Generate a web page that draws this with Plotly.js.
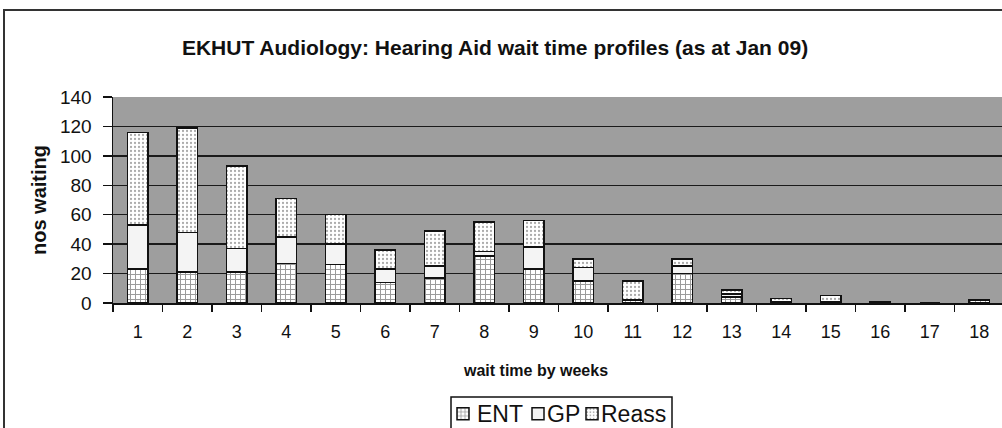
<!DOCTYPE html>
<html><head><meta charset="utf-8">
<script src="https://cdn.plot.ly/plotly-3.0.1.min.js"></script>
<style>
html,body{margin:0;padding:0;background:#fff;overflow:hidden;width:1002px;height:428px}
#frame{position:absolute;left:3px;top:9px;width:1100px;height:500px;border-left:2px solid #333;border-top:2px solid #333;}
#chart{position:absolute;left:0;top:0;width:1040px;height:470px}
</style></head>
<body><div id="frame"></div><div id="chart"></div>
<script>
const weeks = ['1','2','3','4','5','6','7','8','9','10','11','12','13','14','15','16','17','18'];
const ent   = [23,21,21,27,26,14,17,32,23,15,2,20,4,1,1,1,0,2];
const gp    = [30,27,16,18,14,9,8,3,15,9,0,5,2,0,0,0,0,0];
const reass = [63,71,56,26,20,13,24,20,18,6,13,5,3,2,4,0,0,0];
const seriesNames = ['ENT','GP','Reass'];

const FONT = '"Liberation Sans", Arial, sans-serif';
const line = {color:'#111', width:1.5};

// plot area geometry (px) used to place legend pieces
const PL = 113, PW = 891, PT = 97, PH = 206;
const px = v => (v - PL) / PW;
const py = v => -(v - (PT + PH)) / PH;

const traces = [
  {type:'bar', name:'', legend:'legend', x:weeks, y:ent,
   marker:{color:'#ffffff', line:line, pattern:{shape:'+', fillmode:'overlay', fgcolor:'#333', size:5, solidity:0.35}}},
  {type:'bar', name:'', legend:'legend2', x:weeks, y:gp,
   marker:{color:'#f4f4f4', line:line}},
  {type:'bar', name:'', legend:'legend3', x:weeks, y:reass,
   marker:{color:'#ffffff', line:line, pattern:{shape:'.', fillmode:'overlay', fgcolor:'#555', size:4, solidity:0.25}}}
];

const legBase = {orientation:'h', xanchor:'left', yanchor:'top', y:py(395), itemwidth:30,
                 borderwidth:0, bgcolor:'rgba(0,0,0,0)', font:{size:19}};
const symX = [464, 539, 593];
const txtX = [475, 545, 599];

const layout = {
  width:1040, height:470,
  margin:{l:PL, r:1040-PL-PW, t:PT, b:470-PT-PH},
  paper_bgcolor:'rgba(0,0,0,0)',
  plot_bgcolor:'#9e9e9e',
  barmode:'stack', bargap:0.59,
  font:{family:FONT, color:'#111', size:16},
  title:{text:'<b>EKHUT Audiology: Hearing Aid wait time profiles (as at Jan 09)</b>',
         x:0.476, xanchor:'center', y:1-48/470, yanchor:'middle',
         font:{family:FONT, size:21, color:'#111'}},
  xaxis:{type:'category', tickson:'boundaries', ticks:'outside', ticklen:7, tickwidth:1.5, tickcolor:'#111',
         showline:true, linecolor:'#111', linewidth:1.5, showgrid:false,
         range:[-0.5,17.5], tickfont:{size:18}, ticklabelstandoff:12},
  yaxis:{range:[0,140], dtick:20, ticks:'outside', ticklen:9, tickwidth:1.5, tickcolor:'#111',
         showline:true, linecolor:'#111', linewidth:1.5,
         showgrid:true, gridcolor:'#1a1a1a', gridwidth:1.5, zeroline:false,
         tickfont:{size:19}, ticklabelstandoff:7,
         title:{text:'<b>nos waiting</b>', font:{size:20}, standoff:8}},
  showlegend:true,
  legend:Object.assign({}, legBase, {x:px(symX[0]-21)}),
  legend2:Object.assign({}, legBase, {x:px(symX[1]-21)}),
  legend3:Object.assign({}, legBase, {x:px(symX[2]-21)}),
  shapes:[{type:'rect', xref:'paper', yref:'paper', x0:px(451), x1:px(672), y0:py(397), y1:py(450),
           line:{color:'#111', width:1.5}, fillcolor:'#ffffff', layer:'below'}],
  annotations:[{text:'<b>wait time by weeks</b>', xref:'paper', yref:'paper', x:px(535), y:py(370),
                xanchor:'center', yanchor:'middle', showarrow:false, font:{size:16}}]
    .concat(seriesNames.map((n,i) => ({text:n, xref:'paper', yref:'paper', x:px(txtX[i]), y:py(414),
                xanchor:'left', yanchor:'middle', showarrow:false, font:{size:23}})))
};
Plotly.newPlot('chart', traces, layout, {displayModeBar:false, staticPlot:true});
</script>
</body></html>
